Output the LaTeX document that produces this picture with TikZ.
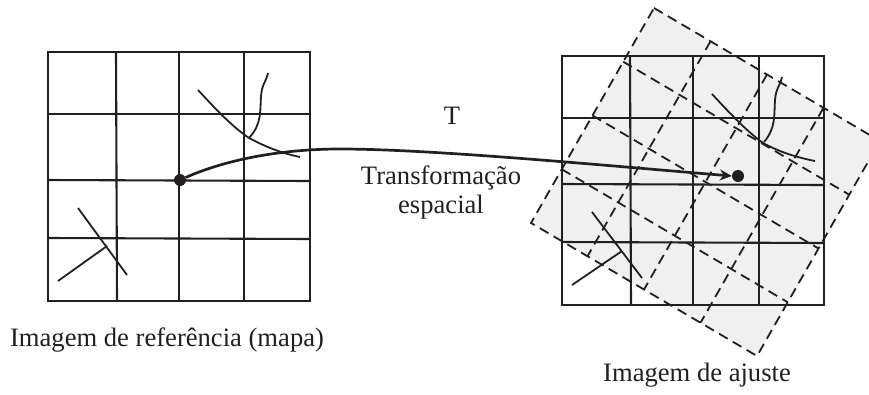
\documentclass[tikz,border=0pt]{standalone}
\usepackage{fontspec}
\setmainfont{Liberation Serif}
\usetikzlibrary{arrows.meta,calc}
\definecolor{ink}{HTML}{231F20}
\definecolor{paneflat}{HTML}{F0F0F0}
\tikzset{
  gridln/.style={draw=ink,line width=2.1pt},
  feat/.style={draw=ink,line width=1.8pt},
  dashln/.style={draw=ink,line width=1.8pt,dash pattern=on 10pt off 6pt},
  dotn/.style={circle,fill=ink,inner sep=0pt,minimum size=12pt},
  lab/.style={text=ink,font=\fontsize{26.6}{28}\selectfont,inner sep=0pt,anchor=center},
}
\begin{document}
\begin{tikzpicture}[x=1pt,y=-1pt]
\useasboundingbox (0,0) rectangle (869,394);
\clip (0,0) rectangle (869,394);
% ---- transformed image pane
\coordinate (tl) at (654,8);
\coordinate (tr) at (880,141);
\coordinate (bl) at (531,223);
\coordinate (br) at (757,356);
\fill[paneflat] (tl) -- (tr) -- (br) -- (bl) -- cycle;
% ---- right grid
\draw[gridln] (562,56) rectangle (824,305);
\draw[gridln] (630,56) -- (631,305);
\draw[gridln] (693,56) -- (693,305);
\draw[gridln] (759,56) -- (759,305);
\draw[gridln] (562,118) -- (824,118);
\draw[gridln] (562,184) -- (824,185);
\draw[gridln] (562,242) -- (824,243);
% ---- dashed grid
\draw[dashln] (tl) -- (tr) -- (br) -- (bl) -- cycle;
\foreach \t in {0.25,0.5,0.75}{
  \draw[dashln] ($(tl)!\t!(tr)$) -- ($(bl)!\t!(br)$);
  \draw[dashln] ($(tl)!\t!(bl)$) -- ($(tr)!\t!(br)$);
}
% ---- right features
\draw[feat] (712,94) .. controls (725,108) and (745,130) .. (763,143) .. controls (780,152) and (795,157) .. (815,161);
\draw[feat] (782,77) .. controls (780,86) and (776,88) .. (775,100) .. controls (774,115) and (776,128) .. (764,142);
\draw[feat] (592,212) -- (642,278);
\draw[feat] (572,285) -- (622,251);
% ---- left grid
\draw[gridln] (48,52) rectangle (310,301);
\draw[gridln] (116,52) -- (117,301);
\draw[gridln] (179,52) -- (179,301);
\draw[gridln] (244,52) -- (244,301);
\draw[gridln] (48,114) -- (310,114);
\draw[gridln] (48,180) -- (310,181);
\draw[gridln] (48,238) -- (310,239);
% ---- left features
\draw[feat] (198,90) .. controls (211,104) and (231,126) .. (249,138) .. controls (266,147) and (281,153) .. (300,157);
\draw[feat] (268,73) .. controls (266,82) and (262,84) .. (261,96) .. controls (260,111) and (262,124) .. (249,138);
\draw[feat] (78,208) -- (127,275);
\draw[feat] (58,281) -- (107,246);
% ---- transformation
\node[dotn] (src) at (180,180) {};
\node[dotn] (dst) at (738,176) {};
\draw[draw=ink,line width=2.7pt,-{Stealth[length=12pt,width=11pt]}] (src) .. controls (225,160) and (280,149) .. (340,149) .. controls (430,149) and (600,165) .. (dst.west);
% ---- labels
\node[lab] (tlab) at (452,116) {T};
\node[lab] (tr1) at (441,178) {Transformação};
\node[lab] (tr2) at (441,207) {espacial};
\node[lab] (lref) at (167,340) {Imagem de referência (mapa)};
\node[lab] (ladj) at (697,375) {Imagem de ajuste};
\end{tikzpicture}
\end{document}
